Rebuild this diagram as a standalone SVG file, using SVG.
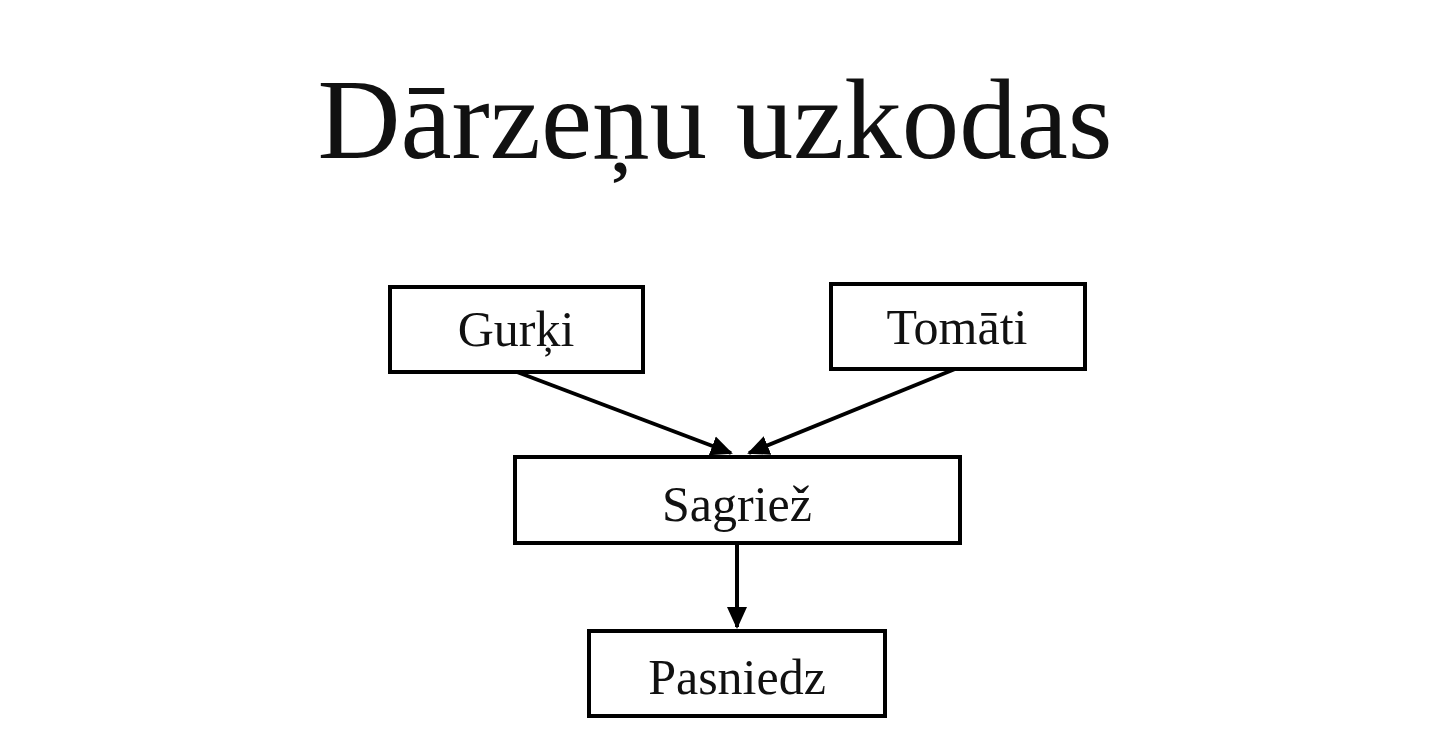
<svg xmlns="http://www.w3.org/2000/svg" width="1442" height="742" viewBox="0 0 1442 742">
<style>
.box{fill:#fff;stroke:#000;stroke-width:4}
.lbl{font-family:"Liberation Serif","Times New Roman",serif;font-size:50px;fill:#111;text-anchor:middle}
.title{font-family:"Liberation Serif","Times New Roman",serif;font-size:115px;fill:#111;text-anchor:middle}
.edge{stroke:#000;stroke-width:4;fill:none;marker-end:url(#ah)}
</style>
<defs>
<marker id="ah" markerWidth="6" markerHeight="6" refX="5" refY="3" orient="auto" markerUnits="strokeWidth">
<path d="M0,0.5 L5.5,3 L0,5.5 z" fill="#000"/>
</marker>
</defs>
<rect width="1442" height="742" fill="#fff"/>
<text class="title" x="715" y="158">Dārzeņu uzkodas</text>
<g id="connectors">
<line class="edge" x1="517" y1="372" x2="731" y2="453"/>
<line class="edge" x1="955" y1="369" x2="749" y2="453"/>
<line class="edge" x1="737" y1="543" x2="737" y2="627"/>
</g>
<g id="gurki">
<rect class="box" x="390" y="287" width="253" height="85"/>
<text class="lbl" x="516" y="346">Gurķi</text>
</g>
<g id="tomati">
<rect class="box" x="831" y="284" width="254" height="85"/>
<text class="lbl" x="957" y="344">Tomāti</text>
</g>
<g id="sagriez">
<rect class="box" x="515" y="457" width="445" height="86"/>
<text class="lbl" x="737" y="521">Sagriež</text>
</g>
<g id="pasniedz">
<rect class="box" x="589" y="631" width="296" height="85"/>
<text class="lbl" x="737" y="694">Pasniedz</text>
</g>
</svg>
